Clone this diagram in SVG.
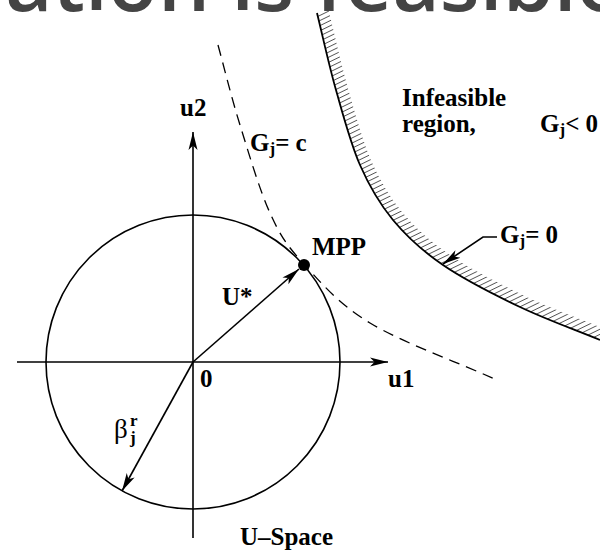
<svg xmlns="http://www.w3.org/2000/svg" width="600" height="553" viewBox="0 0 600 553">
<style>
.ln{fill:none;stroke:#000;stroke-width:1.6}
.dash{fill:none;stroke:#000;stroke-width:1.3;stroke-dasharray:11 7}
.lbl{font-family:"Liberation Serif","Times New Roman",serif;font-weight:bold;font-size:25px;fill:#000}
.sub{font-size:17px}
.greek{font-family:"Liberation Serif","Times New Roman",serif;font-size:27px;fill:#000}
</style>
<defs>
<marker id="arr" markerUnits="userSpaceOnUse" markerWidth="18" markerHeight="12" viewBox="0 0 18 12" refX="18" refY="6" orient="auto">
<path d="M0,1.5 L18,6 L0,10.5 L4.5,6 Z" fill="#000"/>
</marker>
<pattern id="hatch" patternUnits="userSpaceOnUse" width="20" height="4.6" patternTransform="rotate(-26)">
<line x1="0" y1="2.3" x2="20" y2="2.3" stroke="#333" stroke-width="0.8"/>
</pattern>
<path id="g0" d="M317,13 C323.3,38.7 328.8,64.7 336,90 C343.2,115.3 350.5,143.3 360,165 C369.5,186.7 379.2,203.3 393,220 C406.8,236.7 421.8,250.5 443,265 C464.2,279.5 493.8,294.5 520,307 C546.2,319.5 573.3,329 600,340"/>
<clipPath id="side">
<path d="M317,13 C323.3,38.7 328.8,64.7 336,90 C343.2,115.3 350.5,143.3 360,165 C369.5,186.7 379.2,203.3 393,220 C406.8,236.7 421.8,250.5 443,265 C464.2,279.5 493.8,294.5 520,307 C546.2,319.5 573.3,329 600,340 L640,340 L640,-10 L317,-10 Z"/>
</clipPath>
<mask id="band" maskUnits="userSpaceOnUse" x="0" y="0" width="600" height="553">
<g clip-path="url(#side)">
<use href="#g0" fill="none" stroke="#fff" stroke-width="24"/>
</g>
</mask>
</defs>
<rect width="600" height="553" fill="#fff"/>

<g id="limit-state-g0">
<rect x="300" y="0" width="300" height="360" fill="url(#hatch)" mask="url(#band)"/>
<use href="#g0" fill="none" stroke="#000" stroke-width="1.8"/>
</g>

<g id="limit-state-gc">
<path class="dash" d="M218,45 C225.3,71.7 231.3,97 240,125 C248.7,153 259.5,190 270,213 C280.5,236 286.3,244.7 303,263 C319.7,281.3 337.7,303.5 370,323 C402.3,342.5 454.7,361 497,380"/>
</g>

<g id="beta-circle">
<circle class="ln" cx="193" cy="362" r="147"/>
</g>

<g id="connectors">
<line class="ln" x1="17" y1="362" x2="388" y2="362" marker-end="url(#arr)"/>
<line class="ln" x1="193" y1="538" x2="193" y2="132" marker-end="url(#arr)"/>
<line class="ln" x1="193" y1="362" x2="299" y2="269" marker-end="url(#arr)"/>
<line class="ln" x1="193" y1="362" x2="122" y2="491" marker-end="url(#arr)"/>
<path class="ln" d="M497,237 L483,237 L443,264" marker-end="url(#arr)"/>
</g>

<g id="mpp">
<circle cx="304" cy="265" r="6" fill="#000"/>
<text class="lbl" x="312" y="255">MPP</text>
</g>

<g id="labels">
<text class="lbl" x="180" y="116">u2</text>
<text class="lbl" x="388" y="387">u1</text>
<text class="lbl" x="200" y="387">0</text>
<text class="lbl" x="222" y="305">U*</text>
<text class="lbl" x="250" y="151">G<tspan class="sub" dy="3">j</tspan><tspan dy="-3">= c</tspan></text>
<text class="lbl" x="402" y="106">Infeasible</text>
<text class="lbl" x="402" y="132">region,</text>
<text class="lbl" x="540" y="132">G<tspan class="sub" dy="3">j</tspan><tspan dy="-3">&lt; 0</tspan></text>
<text class="lbl" x="500" y="243">G<tspan class="sub" dy="3">j</tspan><tspan dy="-3">= 0</tspan></text>
<text class="greek" x="114" y="438">β</text>
<text class="lbl sub" x="130" y="426">r</text>
<text class="lbl sub" x="130" y="443">j</text>
<text class="lbl" x="240" y="545">U–Space</text>
</g>

<g id="banner">
<text x="5" y="11" font-family="'Open Sans','Noto Sans',sans-serif" font-weight="600" font-size="82" fill="#444">ation is feasible</text>
</g>
</svg>
